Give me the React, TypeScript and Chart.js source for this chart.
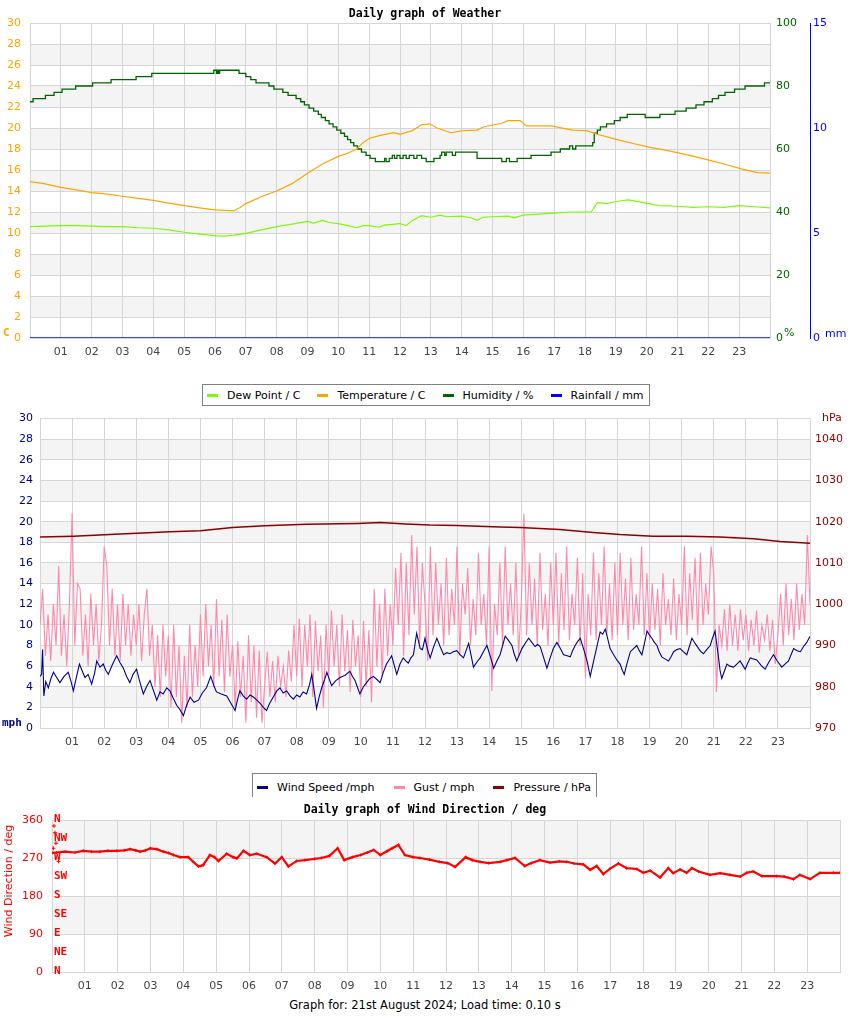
import React, { useEffect, useRef } from 'react';
import { Chart, registerables } from 'chart.js';
Chart.register(...registerables);

// ---------- data (hour of day, value) ----------
const temperature: [number, number][] = [
  [0, 14.9], [0.45, 14.7], [1, 14.35], [1.5, 14.1], [2, 13.85], [2.5, 13.7], [3, 13.5], [3.5, 13.3], [4, 13.1], [4.5, 12.85],
  [5, 12.6], [5.5, 12.4], [6, 12.2], [6.3, 12.15], [6.6, 12.1], [6.8, 12.4], [7, 12.8], [7.5, 13.45], [8, 14.0], [8.5, 14.7],
  [9, 15.7], [9.5, 16.6], [10, 17.3], [10.3, 17.6], [10.6, 18.0], [10.8, 18.6], [11, 19.0], [11.36, 19.3], [11.8, 19.55],
  [12, 19.4], [12.4, 19.75], [12.7, 20.3], [12.96, 20.4], [13.2, 20.0], [13.65, 19.55], [14.05, 19.75], [14.5, 19.8],
  [14.7, 20.1], [15.3, 20.45], [15.5, 20.7], [15.9, 20.7], [16.1, 20.2], [16.9, 20.2], [17.6, 19.8], [18.05, 19.75],
  [18.4, 19.4], [19.1, 18.85], [19.6, 18.5], [20.1, 18.15], [20.6, 17.9], [21.07, 17.6], [21.6, 17.25], [22.08, 16.9],
  [22.6, 16.5], [23.07, 16.1], [23.6, 15.75], [24, 15.7]
];
const dewPoint: [number, number][] = [
  [0, 10.6], [0.5, 10.65], [1, 10.7], [1.5, 10.7], [2, 10.65], [2.5, 10.6], [3, 10.6], [3.5, 10.5], [4, 10.45], [4.5, 10.3],
  [5, 10.07], [5.5, 9.9], [6, 9.75], [6.3, 9.7], [6.6, 9.8], [7, 9.97], [7.5, 10.3], [8, 10.6], [8.5, 10.85], [9, 11.1],
  [9.2, 10.95], [9.5, 11.2], [9.7, 11.0], [10, 10.9], [10.3, 10.7], [10.6, 10.5], [10.8, 10.7], [11, 10.7], [11.3, 10.55],
  [11.5, 10.75], [12, 10.9], [12.2, 10.7], [12.4, 11.2], [12.7, 11.65], [13, 11.5], [13.3, 11.7], [13.5, 11.55],
  [14, 11.6], [14.3, 11.45], [14.5, 11.2], [14.7, 11.5], [15, 11.55], [15.5, 11.6], [15.7, 11.45], [16, 11.7],
  [16.5, 11.8], [17, 11.9], [17.5, 12.0], [18, 12.0], [18.2, 12.0], [18.4, 12.9], [18.7, 12.8], [19.0, 13.0],
  [19.4, 13.15], [19.9, 12.9], [20.4, 12.6], [21, 12.55], [21.5, 12.45], [22, 12.5], [22.5, 12.45], [23, 12.6],
  [23.5, 12.5], [24, 12.4]
];
const humidity: [number, number][] = [
  [0, 75], [0.1, 76], [0.5, 77], [0.78, 78], [1.04, 79], [1.48, 80], [2.03, 81], [2.63, 82], [3.44, 83], [3.95, 84],
  [5.96, 85], [6.05, 84], [6.08, 85], [6.12, 84], [6.15, 85], [6.78, 84], [7.0, 83], [7.16, 82], [7.33, 81], [7.75, 80],
  [7.91, 79], [8.2, 78], [8.37, 77], [8.63, 76], [8.78, 75], [8.9, 74], [9.05, 73], [9.2, 72], [9.35, 71], [9.45, 70],
  [9.58, 69], [9.7, 68], [9.83, 67], [9.95, 66], [10.08, 65], [10.2, 64], [10.3, 63], [10.4, 62], [10.5, 61], [10.62, 60],
  [10.75, 59], [10.9, 58], [11.03, 57], [11.2, 56], [11.5, 57], [11.55, 56], [11.65, 57], [11.75, 58], [11.82, 57],
  [11.9, 58], [12.0, 57], [12.1, 58], [12.2, 57], [12.3, 58], [12.45, 57], [12.55, 58], [12.7, 57], [12.85, 56],
  [13.1, 57], [13.3, 58], [13.35, 59], [13.45, 58], [13.5, 59], [13.7, 58], [13.8, 59], [14.4, 59], [14.5, 57],
  [15.1, 57], [15.3, 56], [15.45, 57], [15.55, 56], [15.8, 57], [16.25, 58], [16.9, 59], [17.2, 60], [17.5, 61],
  [17.6, 60], [17.7, 61], [18.25, 62], [18.3, 65], [18.4, 66], [18.5, 67], [18.7, 68], [18.95, 69], [19.14, 70],
  [19.37, 71], [19.95, 70], [20.43, 71], [20.92, 72], [21.28, 73], [21.6, 74], [21.86, 75], [22.13, 76], [22.33, 77],
  [22.54, 78], [22.85, 79], [23.19, 80], [23.82, 81], [24, 81]
];
const rainfall: [number, number][] = [[0, 0], [24, 0]];

const pressure: [number, number][] = [
  [0, 1016.3], [1.04, 1016.5], [2.5, 1017.0], [4.05, 1017.6], [5.0, 1017.8], [6.0, 1018.6], [7.0, 1019.0], [8.3, 1019.4],
  [9.9, 1019.6], [10.6, 1019.8], [11.4, 1019.45], [12.15, 1019.2], [13.0, 1019.1], [14.34, 1018.7], [14.96, 1018.6],
  [16.2, 1018.1], [17.24, 1017.4], [18.08, 1016.9], [19.1, 1016.5], [20.16, 1016.5], [21.2, 1016.3], [22.24, 1015.9],
  [23.07, 1015.2], [24, 1014.8]
];
const windSpeed: [number, number][] = [
  [0, 5.0], [0.05, 5.2], [0.08, 7.6], [0.12, 3.1], [0.18, 4.5], [0.26, 3.9], [0.34, 4.8], [0.42, 5.4], [0.52, 4.9], [0.62, 4.4],
  [0.75, 5.0], [0.88, 5.4], [0.96, 4.6], [1.04, 3.6], [1.14, 5.0], [1.23, 6.2], [1.32, 5.5], [1.4, 4.9], [1.5, 5.2], [1.61, 4.25],
  [1.7, 5.3], [1.77, 6.5], [1.87, 5.9], [1.97, 6.2], [2.05, 5.6], [2.13, 5.2], [2.25, 6.1], [2.39, 7.0], [2.5, 6.3], [2.6, 5.8],
  [2.7, 5.0], [2.8, 4.4], [2.9, 5.2], [3.01, 5.7], [3.1, 4.6], [3.22, 3.3], [3.32, 4.0], [3.43, 4.6], [3.54, 3.6], [3.64, 2.7],
  [3.74, 3.5], [3.84, 3.3], [3.95, 3.9], [4.05, 3.6], [4.15, 2.9], [4.26, 2.2], [4.36, 1.8], [4.47, 1.2], [4.57, 2.2], [4.68, 3.0],
  [4.8, 2.5], [4.94, 2.7], [5.06, 3.4], [5.19, 3.9], [5.32, 5.0], [5.42, 4.1], [5.5, 3.5], [5.65, 3.3], [5.82, 3.1], [5.95, 2.4],
  [6.08, 1.7], [6.16, 2.8], [6.23, 3.6], [6.34, 3.1], [6.44, 2.8], [6.55, 3.2], [6.65, 3.0], [6.76, 2.7], [6.86, 2.4], [6.96, 2.0],
  [7.06, 1.7], [7.16, 2.4], [7.27, 3.0], [7.38, 3.6], [7.48, 3.9], [7.58, 3.4], [7.69, 3.6], [7.8, 3.1], [7.9, 2.8], [8.0, 3.2],
  [8.1, 3.0], [8.2, 3.5], [8.31, 3.3], [8.4, 4.2], [8.47, 5.2], [8.55, 3.5], [8.62, 1.9], [8.7, 3.0], [8.78, 3.9], [8.86, 4.6],
  [8.94, 5.4], [9.02, 4.7], [9.09, 4.1], [9.22, 4.6], [9.35, 4.9], [9.5, 5.1], [9.66, 5.5], [9.74, 5.0], [9.82, 4.6], [9.9, 3.9],
  [9.97, 3.3], [10.08, 4.0], [10.18, 4.4], [10.28, 4.8], [10.39, 5.0], [10.5, 4.7], [10.6, 4.4], [10.7, 5.4], [10.8, 6.2],
  [10.88, 6.6], [10.96, 7.0], [11.04, 6.1], [11.12, 5.2], [11.22, 6.2], [11.32, 6.8], [11.4, 6.5], [11.48, 6.3], [11.56, 6.8],
  [11.64, 7.1], [11.74, 9.2], [11.85, 7.7], [11.92, 7.6], [12.0, 8.7], [12.08, 7.6], [12.16, 6.8], [12.26, 7.8], [12.37, 8.7],
  [12.47, 7.9], [12.58, 7.1], [12.68, 7.3], [12.78, 7.2], [12.88, 7.4], [12.99, 7.5], [13.1, 7.1], [13.2, 6.8], [13.28, 7.5],
  [13.36, 8.2], [13.44, 7.0], [13.51, 5.9], [13.62, 6.4], [13.72, 6.8], [13.82, 7.4], [13.93, 8.0], [14.04, 6.9], [14.14, 5.8],
  [14.24, 6.5], [14.34, 7.1], [14.42, 8.0], [14.5, 8.9], [14.6, 8.5], [14.71, 8.0], [14.78, 7.2], [14.86, 6.5], [14.94, 7.1],
  [15.02, 7.7], [15.12, 8.2], [15.23, 8.7], [15.33, 8.3], [15.43, 7.9], [15.51, 8.1], [15.59, 7.9], [15.7, 6.8], [15.8, 5.8],
  [15.9, 6.8], [16.0, 7.7], [16.11, 8.3], [16.22, 7.7], [16.32, 7.1], [16.43, 7.0], [16.53, 6.9], [16.6, 7.5], [16.68, 8.0],
  [16.76, 8.4], [16.84, 8.7], [16.95, 7.6], [17.05, 6.5], [17.15, 5.0], [17.22, 6.0], [17.3, 7.1], [17.38, 8.2], [17.46, 9.3],
  [17.54, 9.1], [17.62, 9.6], [17.7, 8.6], [17.77, 7.7], [17.88, 7.1], [17.98, 6.6], [18.08, 6.2], [18.15, 5.6], [18.21, 5.2],
  [18.3, 6.3], [18.4, 7.4], [18.5, 7.7], [18.6, 8.0], [18.68, 7.5], [18.76, 7.1], [18.84, 8.2], [18.92, 9.4], [19.0, 9.0],
  [19.07, 8.7], [19.15, 8.3], [19.23, 8.0], [19.3, 7.4], [19.38, 6.9], [19.48, 6.7], [19.59, 6.5], [19.67, 6.9], [19.75, 7.4],
  [19.85, 7.6], [19.95, 7.7], [20.05, 7.4], [20.16, 7.1], [20.24, 7.9], [20.32, 8.7], [20.42, 8.2], [20.53, 7.7], [20.6, 7.4],
  [20.68, 7.2], [20.78, 7.6], [20.89, 8.0], [20.96, 8.7], [21.04, 9.4], [21.1, 8.0], [21.15, 6.8], [21.2, 5.5], [21.25, 4.8],
  [21.33, 5.5], [21.41, 6.2], [21.5, 6.0], [21.62, 5.9], [21.72, 6.2], [21.82, 6.5], [21.9, 6.1], [21.98, 5.7], [22.06, 6.3],
  [22.14, 6.8], [22.24, 6.7], [22.34, 6.6], [22.47, 6.1], [22.6, 5.7], [22.72, 6.4], [22.86, 7.1], [22.98, 6.5], [23.12, 5.9],
  [23.22, 6.2], [23.33, 6.5], [23.41, 7.1], [23.49, 7.7], [23.6, 7.5], [23.7, 7.4], [23.8, 7.9], [23.9, 8.3], [24.0, 8.9]
];
// gust, one reading every 5 minutes from 00:00 to 24:00
const gustEvery5Min: number[] = [
  10, 13.5, 7, 11, 6.5, 12, 8, 15.7, 7, 11, 6, 12,
  20.8, 8, 14, 13.5, 7, 11, 6, 13, 8, 12, 6.5, 10,
  17.6, 15.7, 8, 13.5, 7, 12, 6.5, 13, 8, 12, 7, 11,
  8, 12, 6.5, 11, 13.5, 7, 10, 4, 9, 3, 10, 5,
  9, 2, 10, 3, 8, 0.5, 7, 2, 10, 3, 8, 4,
  11, 5, 12, 6, 10, 4, 12.5, 5, 10.5, 3.5, 11, 5,
  8, 2, 8.4, 3, 7, 0.5, 9, 2.5, 8, 1, 7.5, 0.5,
  4, 7.4, 3, 6.5, 2.5, 7, 4, 6, 3, 7.5, 4.5, 10,
  5, 10.6, 4, 10, 6, 11, 3, 10.4, 5.5, 9, 2, 10,
  5, 11.4, 6, 10, 4, 11, 5.5, 9.5, 3.5, 10.5, 6, 9,
  3, 10.4, 4, 9.5, 2.5, 13.5, 6, 12, 5, 13.5, 7, 12,
  8, 15.5, 10, 17, 7, 16, 9, 18.7, 11, 17.6, 8, 16,
  12, 6.5, 17.6, 9, 16, 10, 14, 8, 16.5, 9, 13.5, 10,
  17.6, 7, 14, 11, 15.5, 8, 12.5, 9, 17, 10, 13, 8,
  17.6, 3.6, 12, 9, 16, 8, 17.6, 10, 14, 9, 16, 7,
  12, 20.8, 9, 16, 10, 14.5, 8, 17, 9.5, 13, 8, 16,
  10, 17, 8, 15, 9.5, 17.6, 8.5, 13, 10, 16.5, 8, 15,
  4.8, 13, 9, 17, 8.5, 15, 10, 17.6, 9, 14, 8.5, 16,
  9, 17, 10, 14.5, 8.5, 16.5, 9.5, 13, 10, 17.6, 9, 15,
  8.5, 14, 9.5, 13.5, 8, 15, 10, 12.5, 9, 14.5, 8.5, 13,
  10, 17.6, 9, 15, 10.5, 16.5, 9, 17, 10, 14, 11, 17.6,
  15, 3.5, 10, 8, 11.5, 7.5, 12, 8, 11, 7.5, 11.5, 8.5,
  11, 7.5, 10.5, 8, 11.4, 7.3, 10, 8.5, 11, 7.5, 10.5, 6.2,
  9, 13, 8, 14, 9, 12.5, 8.5, 14, 9.5, 13, 10, 18.7,
  12
];
const windDirection: [number, number][] = [
  [0, 282], [0.14, 283], [0.4, 285], [0.7, 283], [0.95, 287], [1.2, 285], [1.46, 285], [1.7, 287], [1.97, 287], [2.2, 288],
  [2.38, 291], [2.55, 288], [2.68, 285], [2.85, 288], [2.99, 293], [3.19, 291], [3.39, 285], [3.55, 282], [3.7, 277],
  [3.9, 272], [4.15, 272], [4.3, 261], [4.46, 250], [4.6, 253], [4.81, 277], [4.95, 272], [5.07, 263], [5.32, 280],
  [5.52, 272], [5.63, 269], [5.83, 287], [6.03, 277], [6.24, 280], [6.54, 272], [6.79, 257], [7.0, 272], [7.2, 250],
  [7.45, 263], [7.7, 265], [8.0, 268], [8.2, 270], [8.45, 275], [8.7, 293], [8.9, 265], [9.15, 272], [9.4, 277], [9.6, 283],
  [9.8, 289], [10.0, 277], [10.2, 286], [10.36, 293], [10.55, 301], [10.75, 277], [11.0, 272], [11.2, 270], [11.5, 266],
  [11.8, 261], [12.05, 258], [12.28, 249], [12.6, 272], [12.8, 265], [13.04, 261], [13.3, 258], [13.65, 261], [13.85, 265],
  [14.1, 270], [14.4, 251], [14.6, 258], [14.86, 265], [15.17, 259], [15.45, 262], [15.68, 261], [15.9, 257], [16.18, 255],
  [16.39, 242], [16.59, 251], [16.79, 232], [17.0, 245], [17.25, 257], [17.5, 246], [17.81, 244], [18.01, 235], [18.22, 240],
  [18.52, 224], [18.77, 246], [18.92, 234], [19.13, 243], [19.33, 235], [19.49, 246], [19.69, 238], [20.04, 230],
  [20.35, 234], [20.65, 230], [20.96, 226], [21.16, 235], [21.36, 238], [21.62, 227], [22.07, 227], [22.3, 226],
  [22.58, 220], [22.78, 230], [23.09, 220], [23.39, 235], [23.8, 235], [24, 235]
];
const windDirectionStray: [number, number][] = [[0.04, 293], [0.06, 346], [0.09, 330], [0.12, 305], [0.2, 262]];

const tempBands: [number, number][] = [[2, 4], [6, 8], [10, 12], [14, 16], [18, 20], [22, 24], [26, 28]];
const dirBands: [number, number][] = [[90, 180], [270, 360]];
const compassLabels: [number, string][] = [[360, 'N'], [315, 'NW'], [270, 'W'], [225, 'SW'], [180, 'S'], [135, 'SE'], [90, 'E'], [45, 'NE'], [0, 'N']];

const legend1 = [
  { label: 'Dew Point / C', color: '#7cfc00' },
  { label: 'Temperature / C', color: '#ffa500' },
  { label: 'Humidity / %', color: '#006400' },
  { label: 'Rainfall / mm', color: '#0000ff' }
];
const legend2 = [
  { label: 'Wind Speed /mph', color: '#00008b' },
  { label: 'Gust / mph', color: '#ff88aa' },
  { label: 'Pressure / hPa', color: '#8b0000' }
];

// ---------- helpers ----------
const GRID = '#d6d6d6';
const FONT = 'DejaVu Sans';
const MONO = 'DejaVu Sans Mono';
const xy = (arr: [number, number][]) => arr.map(([x, y]) => ({ x, y }));
const hourFmt = (v: any) => {
  const n = Math.round(Number(v));
  return n >= 1 && n <= 23 ? (n < 10 ? '0' : '') + n : '';
};
const xAxis = (h: number) => ({
  type: 'linear', min: 0, max: 24,
  afterFit: (s: any) => { s.height = h; },
  ticks: { stepSize: 1, autoSkip: false, maxRotation: 0, padding: 8, color: '#444', font: { family: FONT, size: 11 }, callback: hourFmt },
  grid: { color: GRID, drawTicks: false },
  border: { color: GRID }
});

const bandsPlugin = {
  id: 'bands',
  beforeDraw(chart: any, _a: any, opts: any) {
    const { ctx, chartArea } = chart;
    ctx.save();
    ctx.fillStyle = '#fff';
    ctx.fillRect(0, 0, chart.width, chart.height);
    const sc = chart.scales[opts.scaleId];
    ctx.fillStyle = '#f4f4f4';
    for (const [a, b] of opts.bands) {
      const y1 = sc.getPixelForValue(b);
      const y2 = sc.getPixelForValue(a);
      ctx.fillRect(chartArea.left, y1, chartArea.right - chartArea.left, y2 - y1);
    }
    ctx.restore();
  }
};

const compassPlugin = {
  id: 'compass',
  afterDraw(chart: any) {
    const { ctx, chartArea } = chart;
    const sc = chart.scales.yD;
    ctx.save();
    ctx.fillStyle = '#ff0000';
    ctx.font = `bold 11px "${MONO}"`;
    ctx.textAlign = 'left';
    ctx.textBaseline = 'middle';
    for (const [v, t] of compassLabels) ctx.fillText(t, chartArea.left + 2, sc.getPixelForValue(v) - 1);
    ctx.font = `11px "${FONT}"`;
    ctx.textAlign = 'center';
    ctx.translate(9, 84);
    ctx.rotate(-Math.PI / 2);
    ctx.fillText('Wind Direction / deg', 0, 0);
    ctx.restore();
  }
};

function useChart(make: (c: HTMLCanvasElement) => Chart) {
  const ref = useRef<HTMLCanvasElement>(null);
  useEffect(() => {
    const ch = make(ref.current!);
    return () => ch.destroy();
  }, []);
  return ref;
}

function Legend({ left, top, height, items, noBottom, padTop, gap }: any) {
  return (
    <div style={{
      position: 'absolute', left, top, height, boxSizing: 'border-box', border: '1px solid #808080',
      borderBottom: noBottom ? 'none' : '1px solid #808080', background: '#fff', display: 'flex',
      alignItems: padTop ? 'flex-start' : 'center', paddingTop: padTop || 0, paddingLeft: 4, paddingRight: 5,
      font: `11px "${FONT}"`, color: '#000', lineHeight: '13px', zIndex: 2, whiteSpace: 'nowrap'
    }}>
      {items.map((it: any, i: number) => (
        <div key={i} style={{ display: 'flex', alignItems: 'center', marginRight: i < items.length - 1 ? gap : 0 }}>
          <span style={{ display: 'inline-block', width: 11, height: 3, background: it.color, marginRight: 9 }} />
          <span>{it.label}</span>
        </div>
      ))}
    </div>
  );
}

const abs = (left: number, top: number, extra: any = {}) => ({ position: 'absolute' as const, left, top, whiteSpace: 'nowrap' as const, lineHeight: '14px', zIndex: 3, ...extra });

export default function App() {
  const refA = useChart((c) => new Chart(c, {
    type: 'line',
    data: {
      datasets: [
        { data: xy(dewPoint), yAxisID: 'yT', borderColor: '#7cfc00', borderWidth: 1.2, pointRadius: 0, tension: 0 },
        { data: xy(temperature), yAxisID: 'yT', borderColor: '#ffa500', borderWidth: 1.2, pointRadius: 0 },
        { data: xy(humidity), yAxisID: 'yH', borderColor: '#006400', borderWidth: 1.3, pointRadius: 0, stepped: true },
        { data: xy(rainfall), yAxisID: 'yR', borderColor: '#0000ff', borderWidth: 1.5, pointRadius: 0 }
      ]
    } as any,
    options: {
      animation: false, responsive: false, maintainAspectRatio: false, events: [],
      layout: { padding: { top: 23, bottom: 2, left: 0, right: 0 } },
      plugins: { legend: { display: false }, tooltip: { enabled: false }, bands: { scaleId: 'yT', bands: tempBands } } as any,
      scales: {
        x: xAxis(30),
        yT: {
          position: 'left', min: 0, max: 30, afterFit: (s: any) => { s.width = 30; },
          ticks: { stepSize: 2, padding: 9, color: '#ffa500', font: { family: FONT, size: 11 } },
          grid: { color: GRID, drawTicks: false }, border: { color: GRID }
        },
        yH: {
          position: 'right', min: 0, max: 100, weight: 0, afterFit: (s: any) => { s.width = 40; },
          ticks: { stepSize: 20, padding: 6, color: '#006400', font: { family: FONT, size: 11 } },
          grid: { display: false, drawTicks: false }, border: { display: false }
        },
        yR: {
          position: 'right', min: 0, max: 15, weight: 1, afterFit: (s: any) => { s.width = 40; },
          ticks: { stepSize: 5, padding: 3, color: '#0000ff', font: { family: FONT, size: 11 } },
          grid: { display: false, drawTicks: false }, border: { display: true, color: '#0000ff', width: 1 }
        }
      } as any
    },
    plugins: [bandsPlugin]
  }));

  const refB = useChart((c) => new Chart(c, {
    type: 'line',
    data: {
      datasets: [
        { data: xy(windSpeed), yAxisID: 'yS', borderColor: '#00008b', borderWidth: 1.1, pointRadius: 0, order: 0 },
        { data: gustEvery5Min.map((v, i) => ({ x: i / 12, y: v })), yAxisID: 'yS', borderColor: '#ff88aa', borderWidth: 1.1, pointRadius: 0, order: 1 },
        { data: xy(pressure), yAxisID: 'yP', borderColor: '#8b0000', borderWidth: 1.5, pointRadius: 0, order: 0 }
      ]
    } as any,
    options: {
      animation: false, responsive: false, maintainAspectRatio: false, events: [],
      layout: { padding: { top: 8, bottom: 2, left: 0, right: 0 } },
      plugins: { legend: { display: false }, tooltip: { enabled: false }, bands: { scaleId: 'yS', bands: tempBands } } as any,
      scales: {
        x: xAxis(30),
        yS: {
          position: 'left', min: 0, max: 30, afterFit: (s: any) => { s.width = 40; },
          ticks: { stepSize: 2, padding: 7, color: '#00008b', font: { family: FONT, size: 11 } },
          grid: { color: GRID, drawTicks: false }, border: { color: GRID }
        },
        yP: {
          position: 'right', min: 970, max: 1045, afterFit: (s: any) => { s.width = 40; },
          ticks: { stepSize: 10, includeBounds: false, padding: 5, color: '#8b0000', font: { family: FONT, size: 11 },
            callback: (v: any) => (Number(v) % 10 === 0 ? String(v) : '') },
          grid: { display: false, drawTicks: false }, border: { display: false }
        }
      } as any
    },
    plugins: [bandsPlugin]
  }));

  const refC = useChart((c) => new Chart(c, {
    type: 'line',
    data: {
      datasets: [
        { data: xy(windDirection), yAxisID: 'yD', borderColor: '#ff0000', backgroundColor: '#ff0000', borderWidth: 2.2,
          pointRadius: 1.5, pointStyle: 'cross', pointBorderWidth: 1, pointBorderColor: '#ff0000' },
        { data: xy(windDirectionStray), yAxisID: 'yD', showLine: false, pointRadius: 2, pointStyle: 'cross',
          pointBorderColor: '#ff0000', pointBorderWidth: 1, borderColor: '#ff0000' }
      ]
    } as any,
    options: {
      animation: false, responsive: false, maintainAspectRatio: false, events: [],
      layout: { padding: { top: 23, bottom: 2, left: 0, right: 10 } },
      plugins: { legend: { display: false }, tooltip: { enabled: false }, bands: { scaleId: 'yD', bands: dirBands } } as any,
      scales: {
        x: xAxis(23),
        yD: {
          position: 'left', min: 0, max: 360, afterFit: (s: any) => { s.width = 52; },
          ticks: { stepSize: 90, padding: 9, color: '#ff0000', font: { family: FONT, size: 11 } },
          grid: { color: GRID, drawTicks: false }, border: { color: GRID }
        }
      } as any
    },
    plugins: [bandsPlugin, compassPlugin]
  }));

  const titleStyle = { width: 850, textAlign: 'center' as const, font: `bold 11.5px "${MONO}"`, color: '#000' };

  return (
    <div style={{ position: 'absolute', left: 0, top: 0, width: 850, height: 1017, background: '#fff', overflow: 'hidden' }}>
      <canvas ref={refA} width={850} height={370} style={{ position: 'absolute', left: 0, top: 0 }} />
      <canvas ref={refB} width={850} height={355} style={{ position: 'absolute', left: 0, top: 405 }} />
      <canvas ref={refC} width={850} height={200} style={{ position: 'absolute', left: 0, top: 797, zIndex: 4 }} />

      <div style={abs(0, 6, titleStyle)}>Daily graph of Weather</div>
      <div style={abs(3, 326, { font: `bold 11px "${MONO}"`, color: '#ffa500' })}>C</div>
      <div style={abs(784, 326, { font: `11px "${FONT}"`, color: '#006400' })}>%</div>
      <div style={abs(825, 327, { font: `11px "${FONT}"`, color: '#0000ff' })}>mm</div>
      <Legend left={202} top={384} height={22} items={legend1} gap={17} />

      <div style={abs(822, 411, { font: `11px "${FONT}"`, color: '#8b0000' })}>hPa</div>
      <div style={abs(2, 716, { font: `bold 11px "${MONO}"`, color: '#00008b' })}>mph</div>
      <Legend left={252} top={773} height={24} items={legend2} noBottom padTop={7} gap={19} />

      <div style={abs(0, 802, { ...titleStyle, zIndex: 5 })}>Daily graph of Wind Direction / deg</div>
      <div style={abs(0, 998, { width: 850, textAlign: 'center', font: `11.5px "${FONT}"`, color: '#000', zIndex: 5 })}>
        Graph for: 21st August 2024; Load time: 0.10 s
      </div>
    </div>
  );
}
